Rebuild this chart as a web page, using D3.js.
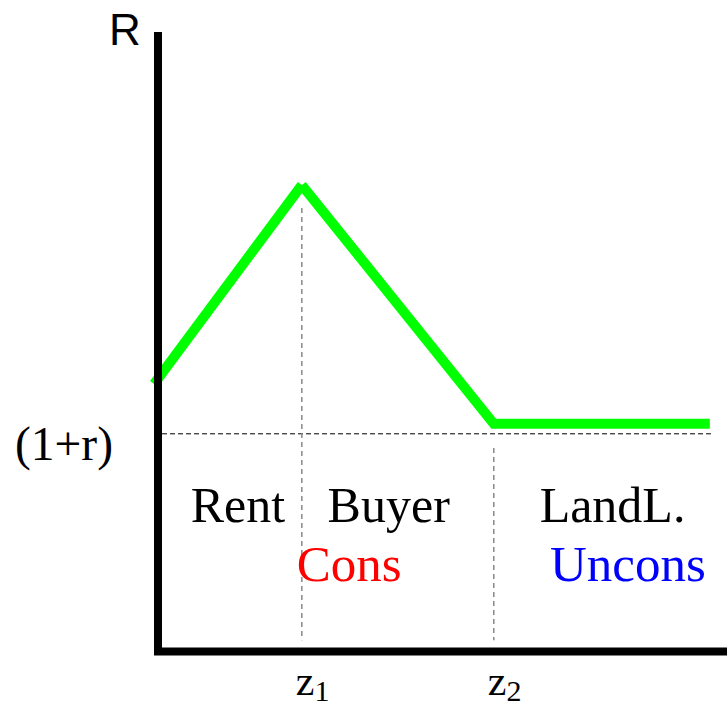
<!DOCTYPE html>
<html><head><meta charset="utf-8">
<script src="https://cdn.jsdelivr.net/npm/d3@7"></script>
<style>html,body{margin:0;padding:0;background:#fff;}svg{display:block;}</style>
</head><body>
<script>
// Data (abstract units)
const curveX = [0, 25.8, 59.3, 97.0];
const curveR = [43.4, 75.4, 37.0, 37.0];
const rateLevel = 35.4;           // (1+r)
const zPositions = [25.8, 59.3];   // z1, z2
const zLabels = ["1", "2"];
const zDashTop = [71.7, 33.1];     // top of vertical dashed guides
const regionLabels = ["Rent", "Buyer", "LandL."];
const regionX = [6.4, 30.3, 67.3];
const constraintLabels = ["Cons", "Uncons"];
const constraintX = [24.9, 69.1];
const constraintColors = ["#ff0000", "#0000ff"];

const W = 727, H = 708;
const x = d3.scaleLinear().domain([0, 100]).range([154, 727]);
const y = d3.scaleLinear().domain([0, 100]).range([654, 32]);

const svg = d3.select("body").append("svg").attr("width", W).attr("height", H);

// (1+r) dashed line
svg.append("line")
  .attr("x1", x(1.4)).attr("x2", x(97.2))
  .attr("y1", y(rateLevel)).attr("y2", y(rateLevel))
  .attr("stroke", "#000").attr("stroke-width", 1)
  .attr("stroke-dasharray", "5,3");

// vertical dashed guides
svg.selectAll("line.guide").data(zPositions).join("line")
  .attr("class", "guide")
  .attr("x1", d => x(d)).attr("x2", d => x(d))
  .attr("y1", (d, i) => y(zDashTop[i])).attr("y2", y(2.2))
  .attr("stroke", "#888").attr("stroke-width", 1.5)
  .attr("stroke-dasharray", "5,4");

// green curve: first segment separate (notch at peak), rest joined
svg.append("line")
  .attr("x1", x(curveX[0])).attr("y1", y(curveR[0]))
  .attr("x2", x(curveX[1])).attr("y2", y(curveR[1]))
  .attr("stroke", "#00ff00").attr("stroke-width", 10)
  .attr("stroke-linecap", "butt");
svg.append("path")
  .attr("d", d3.line().x(d => x(d[0])).y(d => y(d[1]))(
    curveX.slice(1).map((v, i) => [v, curveR[i + 1]])))
  .attr("fill", "none").attr("stroke", "#00ff00").attr("stroke-width", 10)
  .attr("stroke-linejoin", "miter").attr("stroke-linecap", "butt");

// axes
svg.append("line")
  .attr("x1", 158).attr("x2", 158).attr("y1", y(100)).attr("y2", 655)
  .attr("stroke", "#000").attr("stroke-width", 8);
svg.append("line")
  .attr("x1", 154).attr("x2", W).attr("y1", 651.5).attr("y2", 651.5)
  .attr("stroke", "#000").attr("stroke-width", 8);

// labels
const serif = "'Liberation Serif', 'Times New Roman', serif";
svg.append("text").attr("x", 109).attr("y", 45)
  .attr("font-family", "'Liberation Sans', Arial, sans-serif").attr("font-size", 44)
  .text("R");
svg.append("text").attr("x", 15).attr("y", 460)
  .attr("font-family", serif).attr("font-size", 47.5).text("(1+r)");

svg.selectAll("text.region").data(regionLabels).join("text")
  .attr("class", "region")
  .attr("x", (d, i) => x(regionX[i])).attr("y", 522)
  .attr("font-family", serif).attr("font-size", 50).text(d => d);

svg.selectAll("text.cons").data(constraintLabels).join("text")
  .attr("class", "cons")
  .attr("x", (d, i) => x(constraintX[i])).attr("y", 581)
  .attr("font-family", serif).attr("font-size", 51)
  .attr("fill", (d, i) => constraintColors[i]).text(d => d);

const zt = svg.selectAll("text.z").data(zPositions).join("text")
  .attr("class", "z")
  .attr("x", d => x(d) - 6).attr("y", 695)
  .attr("font-family", serif).attr("font-size", 42);
zt.append("tspan").text("z");
zt.append("tspan").attr("font-size", 30).attr("dy", 6).text((d, i) => zLabels[i]);
</script>
</body></html>
